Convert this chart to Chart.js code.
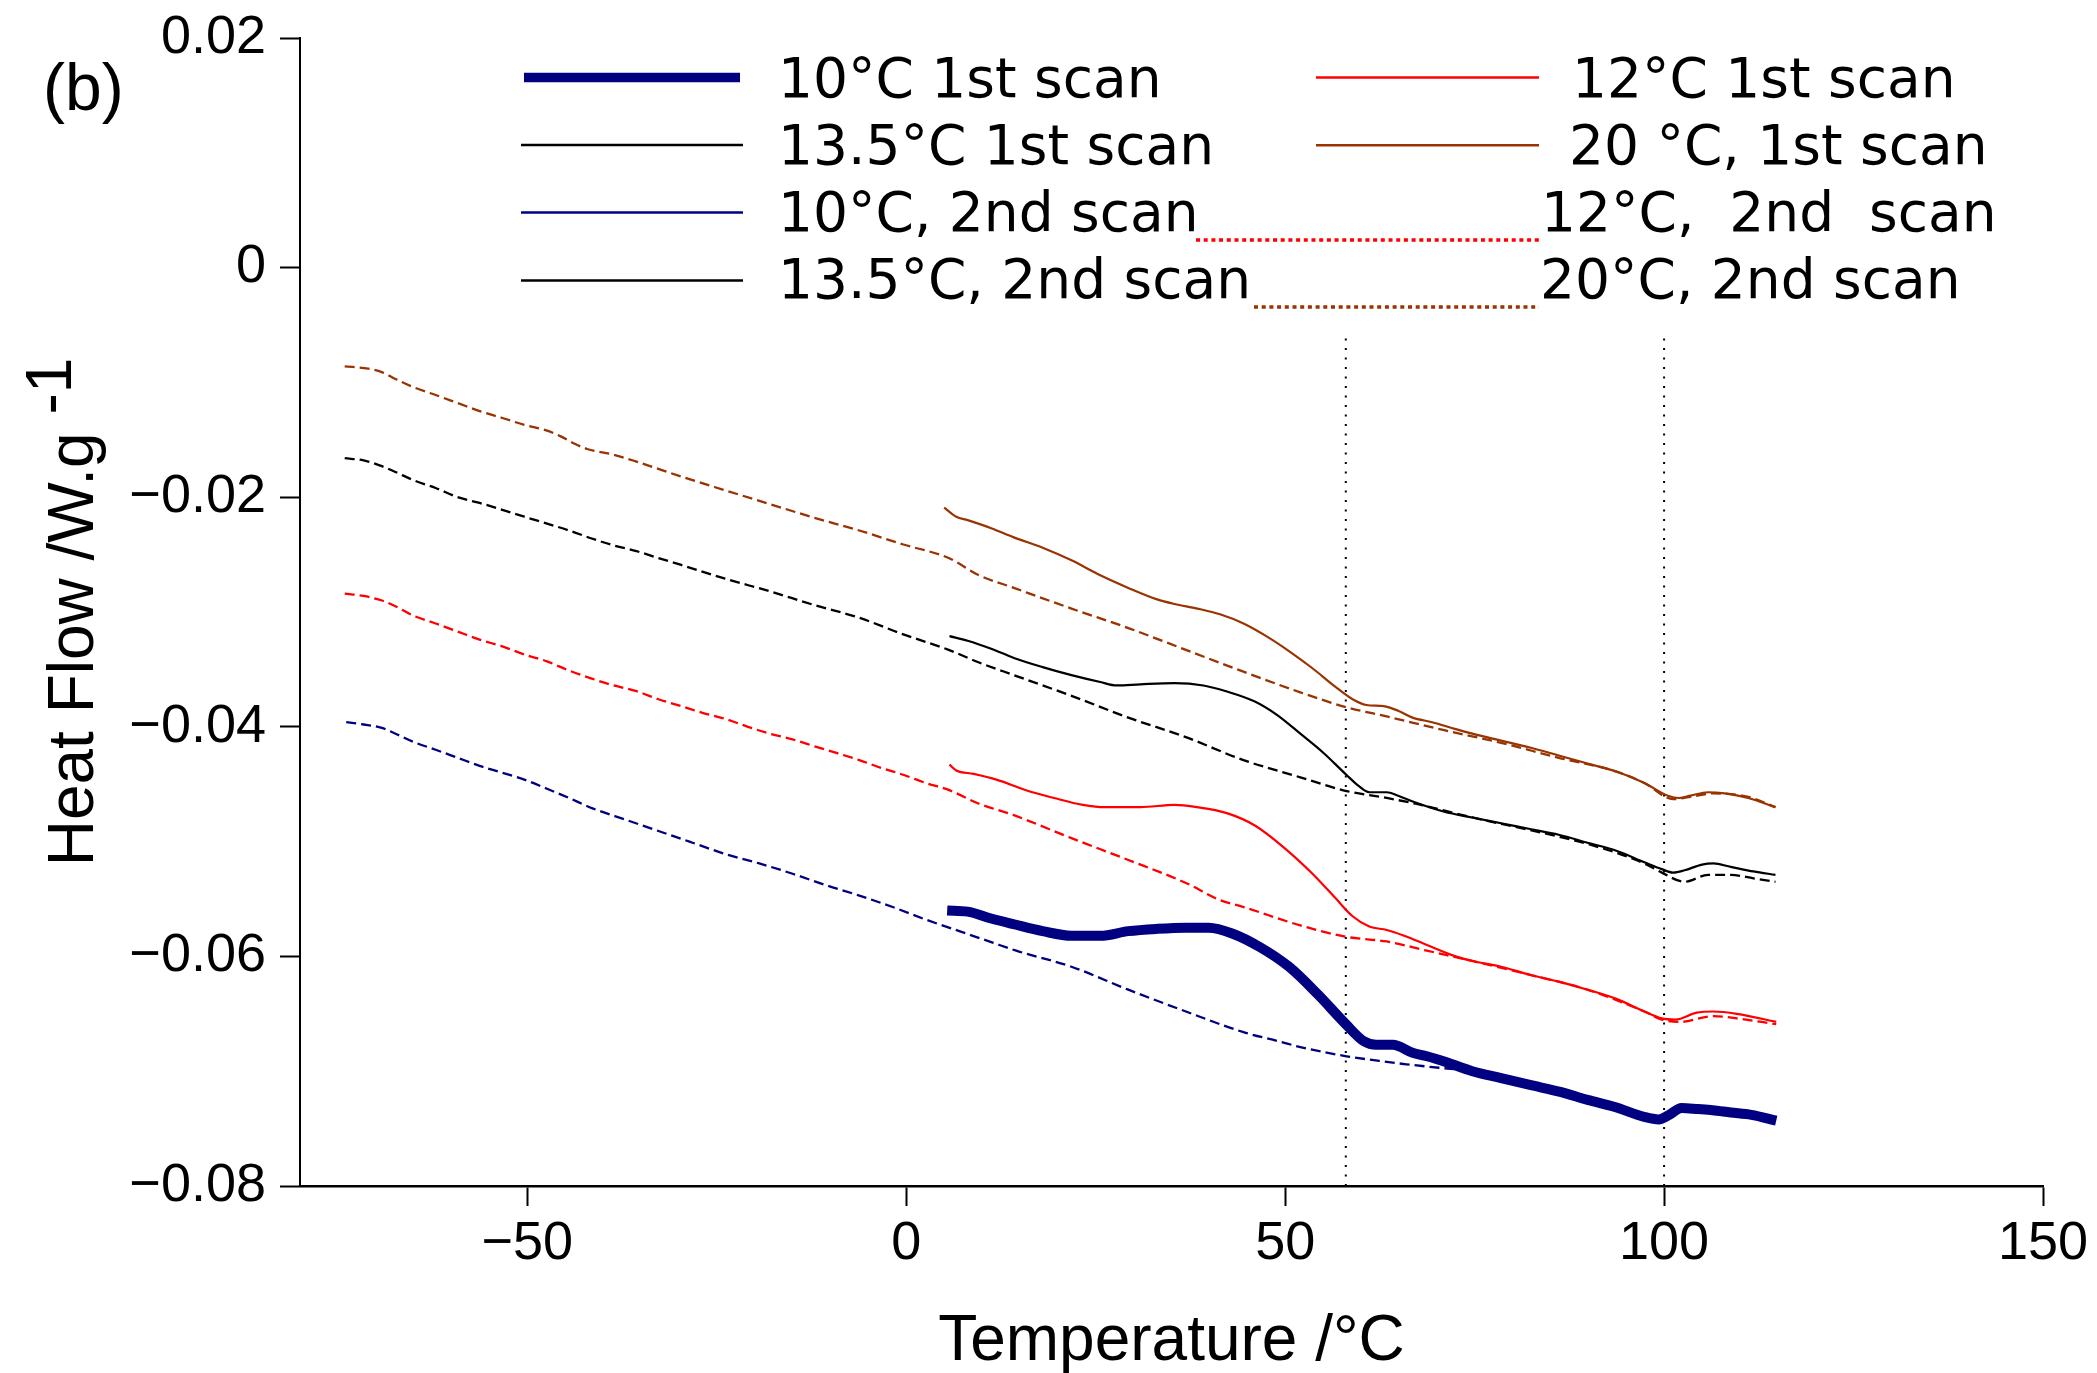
<!DOCTYPE html>
<html>
<head>
<meta charset="utf-8">
<title>DSC heat flow curves</title>
<script src="https://cdn.jsdelivr.net/npm/chart.js@4.4.1/dist/chart.umd.min.js"></script>
<style>
  html, body { margin: 0; padding: 0; background: #ffffff; }
  #wrap { width: 2097px; height: 1373px; }
</style>
</head>
<body>
<div id="wrap"><canvas id="dsc" width="2097" height="1373"></canvas></div>
<script>
// Axis ticks
const tempTicks = [-50, 0, 50, 100, 150];
const flowTicks = [-0.08, -0.06, -0.04, -0.02, 0, 0.02];

// Series labels
const labels = {
  a10: '10°C 1st scan',
  a135: '13.5°C 1st scan',
  b10: '10°C, 2nd scan',
  b135: '13.5°C, 2nd scan',
  a12: '12°C 1st scan',
  a20: '20 °C, 1st scan',
  b12: '12°C,  2nd  scan',
  b20: '20°C, 2nd scan'
};

// 10 °C, 1st scan
const t10a = [5.4, 8.1, 11.2, 14.2, 18.0, 21.8, 25.6, 29.3, 33.1, 36.9, 39.9, 43.0, 46.7, 50.5, 54.3, 58.0, 60.4, 62.0, 64.2, 66.8, 68.7, 71.2, 74.7, 78.5, 82.3, 86.3, 89.9, 93.4, 97.5, 99.3, 100.7, 102.3, 104.5, 106.4, 108.8, 111.5, 114.8];
const hf10a = [-0.0560, -0.0561, -0.0567, -0.0572, -0.0578, -0.0582, -0.0582, -0.0578, -0.0576, -0.0575, -0.0575, -0.0580, -0.0592, -0.0609, -0.0633, -0.0659, -0.0674, -0.0677, -0.0677, -0.0684, -0.0687, -0.0692, -0.0700, -0.0706, -0.0712, -0.0718, -0.0725, -0.0731, -0.0740, -0.0742, -0.0738, -0.0732, -0.0733, -0.0734, -0.0736, -0.0738, -0.0743];

// 12 °C, 1st scan
const t12a = [5.7, 6.6, 8.9, 11.9, 15.7, 19.5, 23.3, 26.3, 30.9, 35.4, 38.4, 42.2, 46.0, 49.8, 53.6, 56.6, 58.9, 61.1, 63.4, 65.7, 68.7, 72.5, 74.7, 78.5, 82.3, 86.1, 89.9, 93.7, 97.4, 99.7, 101.5, 104.3, 106.5, 109.6, 114.8];
const hf12a = [-0.0433, -0.0438, -0.0441, -0.0446, -0.0455, -0.0462, -0.0468, -0.0470, -0.0470, -0.0468, -0.0470, -0.0475, -0.0486, -0.0505, -0.0528, -0.0549, -0.0565, -0.0574, -0.0577, -0.0582, -0.0590, -0.0600, -0.0604, -0.0609, -0.0616, -0.0622, -0.0629, -0.0637, -0.0648, -0.0654, -0.0655, -0.0649, -0.0648, -0.0650, -0.0657];

// 13.5 °C, 1st scan
const t135a = [5.7, 8.1, 11.2, 14.2, 18.0, 21.8, 25.6, 27.8, 30.9, 35.4, 39.2, 42.2, 46.0, 49.0, 52.0, 55.1, 58.1, 59.6, 61.1, 63.4, 64.9, 67.2, 71.0, 74.7, 78.5, 82.3, 86.1, 89.9, 93.7, 97.4, 99.7, 101.2, 102.7, 105.0, 106.5, 108.8, 111.8, 114.7];
const hf135a = [-0.0321, -0.0325, -0.0332, -0.0340, -0.0348, -0.0355, -0.0361, -0.0364, -0.0363, -0.0362, -0.0364, -0.0369, -0.0378, -0.0390, -0.0406, -0.0423, -0.0442, -0.0451, -0.0457, -0.0457, -0.0460, -0.0466, -0.0474, -0.0479, -0.0484, -0.0489, -0.0494, -0.0501, -0.0508, -0.0518, -0.0524, -0.0527, -0.0525, -0.0520, -0.0519, -0.0522, -0.0526, -0.0529];

// 20 °C, 1st scan
const t20a = [5.0, 6.6, 8.1, 11.2, 14.2, 18.0, 21.8, 25.6, 29.3, 33.1, 35.4, 38.4, 41.4, 44.5, 47.5, 50.5, 53.6, 56.6, 58.9, 60.7, 63.0, 64.9, 66.8, 69.4, 72.5, 74.7, 78.5, 82.3, 86.1, 89.9, 93.7, 97.4, 100.5, 102.0, 103.5, 105.8, 108.0, 111.1, 114.7];
const hf20a = [-0.0209, -0.0217, -0.0220, -0.0227, -0.0235, -0.0244, -0.0255, -0.0268, -0.0279, -0.0289, -0.0293, -0.0297, -0.0302, -0.0310, -0.0321, -0.0334, -0.0349, -0.0365, -0.0376, -0.0381, -0.0382, -0.0386, -0.0392, -0.0396, -0.0402, -0.0406, -0.0412, -0.0418, -0.0425, -0.0432, -0.0439, -0.0449, -0.0460, -0.0462, -0.0460, -0.0457, -0.0458, -0.0462, -0.0470];

// 10 °C, 2nd scan
const t10b = [-73.9, -71.6, -69.2, -67.4, -65.1, -62.1, -59.2, -56.3, -53.3, -50.4, -47.4, -44.5, -41.4, -37.0, -32.6, -28.2, -23.8, -19.4, -15.0, -10.6, -6.2, -1.8, 2.6, 7.0, 11.4, 14.5, 21.8, 29.3, 36.9, 44.5, 49.2, 52.0, 58.1, 62.4, 66.0, 70.3, 74.7, 78.5, 82.3, 86.3, 89.9, 93.4, 97.5, 99.3, 100.7, 102.3, 104.5, 106.4, 108.8, 111.5, 114.8];
const hf10b = [-0.0396, -0.0398, -0.0401, -0.0406, -0.0413, -0.0420, -0.0427, -0.0434, -0.0440, -0.0446, -0.0454, -0.0462, -0.0471, -0.0481, -0.0491, -0.0501, -0.0511, -0.0519, -0.0528, -0.0538, -0.0547, -0.0557, -0.0568, -0.0578, -0.0588, -0.0595, -0.0609, -0.0629, -0.0648, -0.0666, -0.0674, -0.0679, -0.0687, -0.0691, -0.0694, -0.0697, -0.0700, -0.0706, -0.0712, -0.0718, -0.0725, -0.0731, -0.0740, -0.0742, -0.0738, -0.0732, -0.0733, -0.0734, -0.0736, -0.0738, -0.0743];

// 12 °C, 2nd scan
const t12b = [-74.1, -71.6, -69.2, -67.4, -65.1, -62.1, -59.2, -56.3, -53.3, -50.4, -47.4, -44.5, -41.5, -38.6, -35.6, -32.7, -29.7, -26.8, -23.9, -20.9, -18.0, -15.0, -12.1, -9.1, -6.2, -3.2, -0.3, 2.6, 5.6, 9.6, 14.2, 21.8, 29.3, 36.9, 41.4, 44.5, 52.0, 58.1, 63.4, 68.7, 74.7, 82.3, 89.9, 97.4, 99.7, 102.2, 106.5, 109.6, 114.8];
const hf12b = [-0.0284, -0.0286, -0.0290, -0.0295, -0.0303, -0.0310, -0.0317, -0.0324, -0.0330, -0.0337, -0.0343, -0.0351, -0.0358, -0.0364, -0.0369, -0.0376, -0.0382, -0.0388, -0.0393, -0.0400, -0.0406, -0.0411, -0.0417, -0.0423, -0.0429, -0.0436, -0.0442, -0.0449, -0.0455, -0.0467, -0.0477, -0.0497, -0.0516, -0.0536, -0.0551, -0.0557, -0.0573, -0.0583, -0.0587, -0.0595, -0.0604, -0.0616, -0.0629, -0.0648, -0.0655, -0.0657, -0.0652, -0.0654, -0.0659];

// 13.5 °C, 2nd scan
const t135b = [-74.1, -71.6, -69.2, -67.4, -65.1, -62.1, -59.2, -56.3, -53.3, -50.4, -47.4, -44.5, -41.5, -38.6, -35.6, -32.7, -29.7, -23.9, -18.0, -12.1, -6.2, -0.6, 5.6, 9.6, 14.2, 21.8, 29.3, 36.9, 44.5, 52.0, 58.1, 63.4, 67.2, 74.7, 82.3, 89.9, 97.4, 99.7, 102.7, 105.8, 108.8, 111.8, 114.7];
const hf135b = [-0.0166, -0.0168, -0.0173, -0.0178, -0.0185, -0.0192, -0.0200, -0.0205, -0.0211, -0.0217, -0.0223, -0.0229, -0.0236, -0.0242, -0.0247, -0.0253, -0.0259, -0.0271, -0.0282, -0.0294, -0.0305, -0.0319, -0.0333, -0.0344, -0.0355, -0.0373, -0.0392, -0.0409, -0.0429, -0.0444, -0.0456, -0.0462, -0.0467, -0.0479, -0.0490, -0.0502, -0.0519, -0.0527, -0.0535, -0.0529, -0.0529, -0.0532, -0.0535];

// 20 °C, 2nd scan
const t20b = [-74.1, -71.0, -69.2, -67.4, -65.1, -62.1, -59.2, -56.3, -53.3, -50.4, -47.4, -45.6, -43.9, -42.1, -38.6, -35.6, -29.7, -23.9, -18.0, -12.1, -6.2, -0.5, 5.6, 9.6, 14.2, 21.8, 29.3, 36.9, 44.5, 52.0, 58.1, 63.4, 71.0, 78.5, 86.1, 93.7, 97.4, 101.2, 103.5, 106.5, 111.1, 114.7];
const hf20b = [-0.0086, -0.0088, -0.0091, -0.0097, -0.0104, -0.0111, -0.0118, -0.0125, -0.0131, -0.0137, -0.0142, -0.0147, -0.0153, -0.0158, -0.0163, -0.0169, -0.0182, -0.0194, -0.0206, -0.0218, -0.0229, -0.0241, -0.0253, -0.0268, -0.0279, -0.0297, -0.0314, -0.0333, -0.0352, -0.0370, -0.0383, -0.0391, -0.0403, -0.0414, -0.0427, -0.0439, -0.0449, -0.0463, -0.0461, -0.0458, -0.0461, -0.0470];

// Vertical reference lines (transition temperatures)
const markerTemps = [58, 100];
const markerFlow = [-0.08, -0.0058];

const NAVY = '#000080', RED = '#ff0000', BROWN = '#993300', BLACK = '#000000';

const pts = (xs, ys) => xs.map((x, i) => ({ x: x, y: ys[i] }));

function curve(key, xs, ys, color, width, dash, legendStyle) {
  return {
    label: labels[key],
    data: pts(xs, ys),
    borderColor: color,
    backgroundColor: color,
    borderWidth: width,
    borderDash: dash || [],
    borderCapStyle: 'butt',
    borderJoinStyle: 'round',
    pointRadius: 0,
    showLine: true,
    fill: false,
    cubicInterpolationMode: 'monotone',
    legendStyle: legendStyle
  };
}

const DASH = [10, 5];
const DOT = [4, 3.7];

const datasets = [
  curve('b20', t20b, hf20b, BROWN, 2.3, DASH, { color: BROWN, width: 3.5, dash: DOT }),
  curve('b135', t135b, hf135b, BLACK, 2.3, DASH, { color: BLACK, width: 2.4, dash: [] }),
  curve('b12', t12b, hf12b, RED, 2.3, DASH, { color: RED, width: 3.5, dash: DOT }),
  curve('b10', t10b, hf10b, NAVY, 2.3, DASH, { color: NAVY, width: 2.6, dash: [] }),
  curve('a20', t20a, hf20a, BROWN, 2.2, null, { color: BROWN, width: 2.6, dash: [] }),
  curve('a135', t135a, hf135a, BLACK, 2.2, null, { color: BLACK, width: 2.4, dash: [] }),
  curve('a12', t12a, hf12a, RED, 2.2, null, { color: RED, width: 2.6, dash: [] }),
  curve('a10', t10a, hf10a, NAVY, 10, null, { color: NAVY, width: 9.5, dash: [] })
];

markerTemps.forEach(function (t) {
  datasets.push({
    label: 'T = ' + t,
    data: markerFlow.map(function (v) { return { x: t, y: v }; }),
    borderColor: BLACK,
    borderWidth: 2,
    borderDash: [2, 7.5],
    pointRadius: 0,
    showLine: true,
    fill: false
  });
});

// Two-column legend drawn on the canvas
const legendSlots = [
  { key: 'a10',  x0: 524,  x1: 740,  ly: 77.5,  tx: 778,  ty: 96.5 },
  { key: 'a135', x0: 521,  x1: 743,  ly: 145,   tx: 778,  ty: 163.5 },
  { key: 'b10',  x0: 521,  x1: 743,  ly: 212.5, tx: 778,  ty: 230.5 },
  { key: 'b135', x0: 521,  x1: 743,  ly: 280.5, tx: 778,  ty: 297.5 },
  { key: 'a12',  x0: 1316, x1: 1539, ly: 77.5,  tx: 1572, ty: 96.5 },
  { key: 'a20',  x0: 1316, x1: 1539, ly: 145.3, tx: 1569, ty: 163.5 },
  { key: 'b12',  x0: 1196, x1: 1539, ly: 240,   tx: 1541, ty: 230.5 },
  { key: 'b20',  x0: 1254, x1: 1539, ly: 307,   tx: 1540, ty: 297.5 }
];

const decorations = {
  id: 'decorations',
  afterDraw(chart) {
    const ctx = chart.ctx;
    const area = chart.chartArea;

    // legend
    ctx.save();
    legendSlots.forEach(function (slot) {
      const ds = chart.data.datasets.find(function (d) { return d.label === labels[slot.key]; });
      const st = ds.legendStyle;
      ctx.beginPath();
      ctx.setLineDash(st.dash);
      ctx.lineCap = 'butt';
      ctx.strokeStyle = st.color;
      ctx.lineWidth = st.width;
      ctx.moveTo(slot.x0, slot.ly);
      ctx.lineTo(slot.x1, slot.ly);
      ctx.stroke();
      ctx.setLineDash([]);
      ctx.fillStyle = '#000';
      ctx.font = '55px "DejaVu Sans", Verdana, sans-serif';
      ctx.textAlign = 'left';
      ctx.textBaseline = 'alphabetic';
      ctx.fillText(ds.label, slot.tx, slot.ty);
    });
    ctx.restore();

    // panel letter
    ctx.save();
    ctx.fillStyle = '#000';
    ctx.font = '66px "Liberation Sans", Arial, sans-serif';
    ctx.textBaseline = 'alphabetic';
    ctx.textAlign = 'left';
    ctx.fillText('(b)', 43, 110);
    ctx.restore();

    // x axis title
    ctx.save();
    ctx.fillStyle = '#000';
    ctx.font = '64px "Liberation Sans", Arial, sans-serif';
    ctx.textAlign = 'center';
    ctx.textBaseline = 'alphabetic';
    ctx.fillText('Temperature /°C', (area.left + area.right) / 2, 1360);
    ctx.restore();

    // y axis title with superscript
    ctx.save();
    ctx.fillStyle = '#000';
    ctx.font = '64px "Liberation Sans", Arial, sans-serif';
    ctx.textAlign = 'left';
    ctx.textBaseline = 'alphabetic';
    const main = 'Heat Flow /W.g ';
    const sup = '-1';
    const wMain = ctx.measureText(main).width;
    const wSup = ctx.measureText(sup).width;
    const total = wMain + wSup;
    ctx.translate(93, (area.top + area.bottom) / 2);
    ctx.rotate(-Math.PI / 2);
    ctx.fillText(main, -total / 2, 0);
    ctx.fillText(sup, -total / 2 + wMain, -22);
    ctx.restore();
  }
};

const minusFmt = function (v, digits) {
  if (Math.abs(v) < 1e-12) return '0';
  const s = digits != null ? Math.abs(v).toFixed(digits) : String(Math.abs(v));
  return (v < 0 ? '\u2212' : '') + s;
};

new Chart(document.getElementById('dsc'), {
  type: 'scatter',
  data: { datasets: datasets },
  plugins: [decorations],
  options: {
    responsive: false,
    animation: false,
    devicePixelRatio: 1,
    layout: { padding: { left: 0, right: 54, top: 38, bottom: 0 } },
    plugins: {
      legend: { display: false },
      tooltip: { enabled: false }
    },
    scales: {
      x: {
        type: 'linear',
        min: -80,
        max: 150,
        afterBuildTicks: function (scale) {
          scale.ticks = tempTicks.map(function (v) { return { value: v }; });
        },
        afterFit: function (scale) {
          scale.height = 187;
          scale.paddingLeft = 0;
          scale.paddingRight = 0;
        },
        grid: {
          drawOnChartArea: false,
          drawTicks: true,
          tickLength: 20,
          tickWidth: 2,
          tickColor: '#000'
        },
        border: { display: true, color: '#000', width: 2.5 },
        ticks: {
          color: '#000',
          padding: 6,
          maxRotation: 0,
          autoSkip: false,
          font: { family: '"Liberation Sans", Arial, sans-serif', size: 54 },
          callback: function (v) { return minusFmt(v); }
        }
      },
      y: {
        type: 'linear',
        min: -0.08,
        max: 0.02,
        afterBuildTicks: function (scale) {
          scale.ticks = flowTicks.map(function (v) { return { value: v }; });
        },
        afterFit: function (scale) {
          scale.width = 300;
          scale.paddingTop = 0;
          scale.paddingBottom = 0;
        },
        grid: {
          drawOnChartArea: false,
          drawTicks: true,
          tickLength: 20,
          tickWidth: 2,
          tickColor: '#000'
        },
        border: { display: true, color: '#000', width: 2 },
        ticks: {
          color: '#000',
          padding: 14,
          autoSkip: false,
          font: { family: '"Liberation Sans", Arial, sans-serif', size: 54 },
          callback: function (v) { return minusFmt(v, 2); }
        }
      }
    }
  }
});
</script>
</body>
</html>
